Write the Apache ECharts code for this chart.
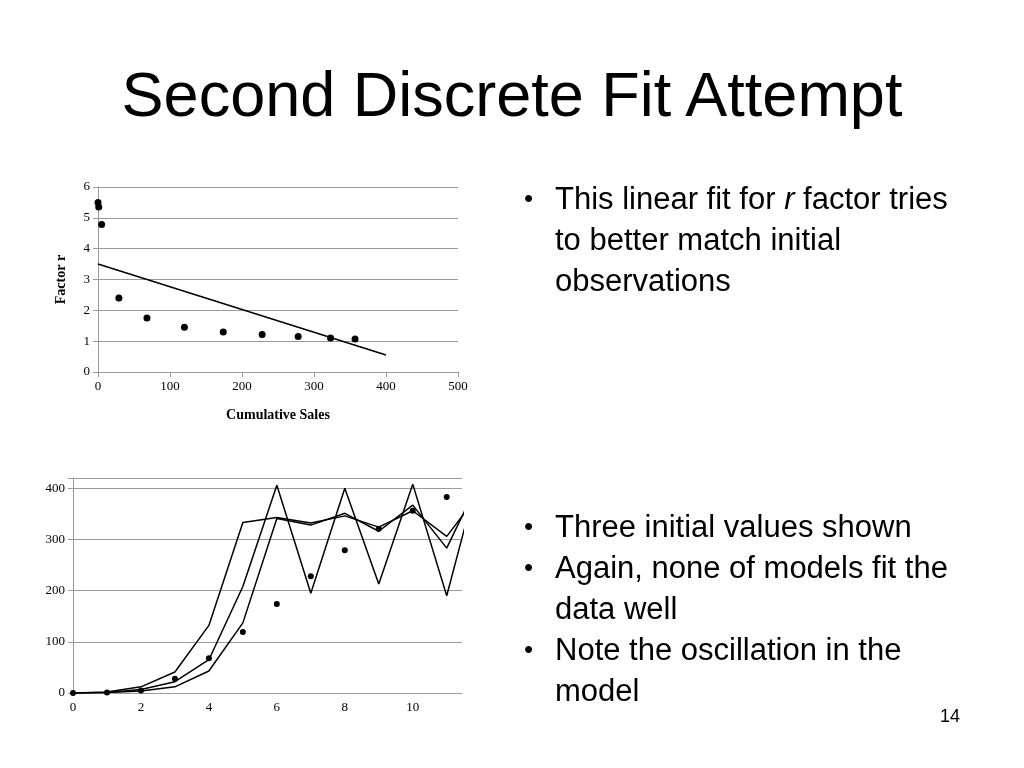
<!DOCTYPE html>
<html>
<head>
<meta charset="utf-8">
<script src="https://cdn.jsdelivr.net/npm/echarts@6/dist/echarts.min.js"></script>
<style>
  body { margin: 0; width: 1024px; height: 768px; background: #fff; position: relative; font-family: "Liberation Sans", Arial, sans-serif; overflow: hidden; }
  #chart { position: absolute; left: 0; top: 0; width: 1024px; height: 768px; }
  h1 { position: absolute; top: 58px; left: 0; width: 1024px; margin: 0; text-align: center; font-weight: normal; font-size: 63px; }
  ul { position: absolute; left: 520px; margin: 0; padding: 0; list-style: none; font-size: 31px; line-height: 41px; white-space: nowrap; }
  li { position: relative; padding-left: 35px; }
  li:before { content: "\2022"; position: absolute; left: 4px; font-size: 26px; }
  .pg { position: absolute; left: 940px; top: 706px; font-size: 18px; }
</style>
</head>
<body>
<div id="chart"></div>
<h1>Second Discrete Fit Attempt</h1>
<ul style="top:178px">
  <li>This linear fit for <i>r</i> factor tries<br>to better match initial<br>observations</li>
</ul>
<ul style="top:506px">
  <li>Three initial values shown</li>
  <li>Again, none of models fit the<br>data well</li>
  <li>Note the oscillation in the<br>model</li>
</ul>
<div class="pg">14</div>
<script>
// top chart: factor r vs cumulative sales
const salesX = [0, 1, 5, 29, 68, 120, 174, 228, 278, 323, 357];
const factorR = [5.5, 5.35, 4.78, 2.4, 1.75, 1.45, 1.3, 1.22, 1.15, 1.1, 1.07];
const fitX = [0, 400];
const fitR = [3.5, 0.55];

// bottom chart: models vs observed
const periods = [0, 1, 2, 3, 4, 5, 6, 7, 8, 9, 10, 11, 12];
const modelA = [0, 2, 12, 41, 132, 333, 343, 332, 346, 324, 356, 306, 393];
const modelB = [0, 1, 7, 22, 65, 208, 406, 195, 400, 213, 408, 190, 441];
const modelC = [0, 1, 4, 12, 43, 137, 341, 328, 351, 316, 367, 283, 421];
const obsX = [0, 1, 2, 3, 4, 5, 6, 7, 8, 9, 10, 11];
const observed = [0, 1, 5, 28, 68, 119, 174, 228, 279, 321, 356, 383];

const pairs = (xs, ys) => xs.map((x, i) => [x, ys[i]]);
const serif = "Liberation Serif, Times New Roman, serif";
const grey = "#9a9a9a";
const lbl = { fontFamily: serif, fontSize: 13, color: "#000" };

const chart = echarts.init(document.getElementById("chart"));
const lineS = (data) => ({
  type: "line", xAxisIndex: 1, yAxisIndex: 1, data, symbol: "none",
  lineStyle: { color: "#000", width: 1.5 }
});
chart.setOption({
  animation: false,
  grid: [
    { left: 98, right: 566, top: 187, bottom: 396 },
    { left: 73, right: 562, top: 478, bottom: 75 }
  ],
  xAxis: [
    {
      gridIndex: 0, type: "value", min: 0, max: 500, interval: 100,
      name: "Cumulative Sales", nameLocation: "middle", nameGap: 36,
      nameTextStyle: { fontFamily: serif, fontSize: 14, fontWeight: "bold", color: "#000" },
      axisLine: { lineStyle: { color: grey } }, axisTick: { show: true, lineStyle: { color: grey } },
      axisLabel: lbl, splitLine: { show: false }
    },
    {
      gridIndex: 1, type: "value", min: 0, max: 11.45, interval: 2,
      axisLine: { lineStyle: { color: grey } }, axisTick: { show: false },
      axisLabel: Object.assign({}, lbl, { showMaxLabel: false }), splitLine: { show: false }
    }
  ],
  yAxis: [
    {
      gridIndex: 0, type: "value", min: 0, max: 6, interval: 1,
      name: "Factor r", nameLocation: "middle", nameGap: 30,
      nameTextStyle: { fontFamily: serif, fontSize: 14, fontWeight: "bold", color: "#000" },
      axisLine: { show: true, lineStyle: { color: grey } }, axisTick: { show: true, lineStyle: { color: grey } },
      axisLabel: lbl, splitLine: { lineStyle: { color: grey } }
    },
    {
      gridIndex: 1, type: "value", min: 0, max: 420, interval: 100,
      axisLine: { show: true, lineStyle: { color: grey } }, axisTick: { show: true, lineStyle: { color: grey } },
      axisLabel: Object.assign({}, lbl, { formatter: v => (v % 100 === 0 ? v : "") }),
      splitLine: { lineStyle: { color: grey } }
    }
  ],
  series: [
    { type: "scatter", data: pairs(salesX, factorR), symbolSize: 7, itemStyle: { color: "#000", opacity: 1 } },
    { type: "line", data: pairs(fitX, fitR), symbol: "none", lineStyle: { color: "#000", width: 1.5 } },
    lineS(pairs(periods, modelA)),
    lineS(pairs(periods, modelB)),
    lineS(pairs(periods, modelC)),
    { type: "scatter", xAxisIndex: 1, yAxisIndex: 1, data: pairs(obsX, observed), symbolSize: 6, itemStyle: { color: "#000", opacity: 1 } }
  ]
});
</script>
</body>
</html>
